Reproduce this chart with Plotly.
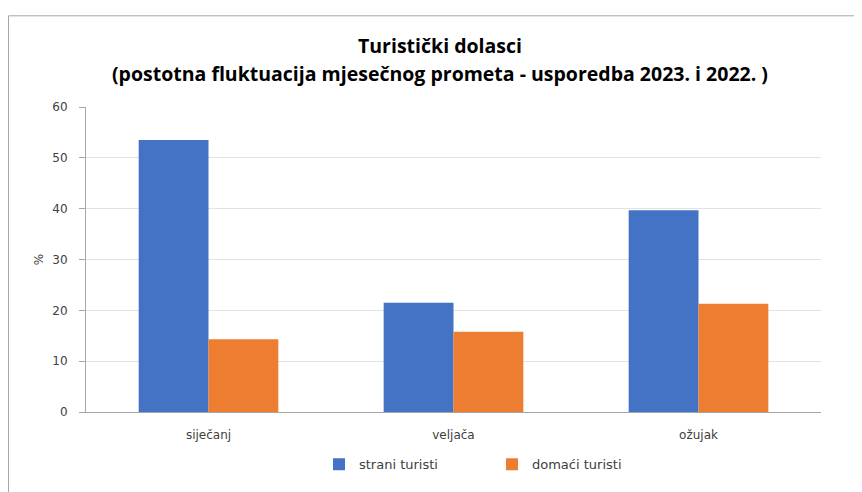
import plotly.graph_objects as go

categories = ["siječanj", "veljača", "ožujak"]
strani = [53.5, 21.5, 39.7]
domaci = [14.3, 15.8, 21.3]
series_names = ["strani turisti", "domaći turisti"]
title_lines = ["Turistički dolasci",
               "(postotna fluktuacija mjesečnog prometa - usporedba 2023. i 2022. )"]

OFF = 8  # page body offset
W, H = 862 - OFF, 492 - OFF
L, R, T, B = 86 - OFF, 821 - OFF, 106.5 - OFF, 412.5 - OFF

def px(x):
    return (x - OFF - L) / (R - L)

def py(y):
    return (B - (y - OFF)) / (B - T)

fig = go.Figure()
fig.add_trace(go.Bar(name=series_names[0], x=categories, y=strani,
                     marker=dict(color="#4472C4", line=dict(width=0))))
fig.add_trace(go.Bar(name=series_names[1], x=categories, y=domaci,
                     marker=dict(color="#ED7D31", line=dict(width=0))))

tick_font = dict(family="DejaVu Sans", size=12, color="#404040")

fig.update_layout(
    width=W, height=H,
    margin=dict(l=L, r=W - R, t=T, b=H - B, autoexpand=False),
    paper_bgcolor="white", plot_bgcolor="white",
    barmode="group", bargap=0.43, bargroupgap=0,
    showlegend=True,
    legend=dict(orientation="h", x=px(319), y=py(465), xanchor="left", yanchor="middle",
                font=dict(family="DejaVu Sans", size=13, color="#404040"),
                entrywidth=128, entrywidthmode="pixels", traceorder="normal"),
    xaxis=dict(showline=True, linecolor="#A6A6A6", linewidth=1, ticks="",
               tickfont=tick_font, showgrid=False, ticklabelstandoff=12),
    yaxis=dict(range=[0, 60], dtick=10, showline=True, linecolor="#A6A6A6", linewidth=1,
               ticks="outside", ticklen=6, tickcolor="#A6A6A6",
               showgrid=True, gridcolor="#E3E3E3", gridwidth=1, zeroline=False,
               tickfont=tick_font, ticklabelstandoff=9,
               title=dict(text="%", font=dict(family="DejaVu Sans", size=12, color="#404040"),
                          standoff=6)),
    font=dict(family="DejaVu Sans"),
)

for txt, yc in zip(title_lines, [45, 73]):
    fig.add_annotation(text="<b>" + txt + "</b>", xref="paper", yref="paper",
                       x=px(440), y=py(yc), xanchor="center", yanchor="middle",
                       showarrow=False,
                       font=dict(family="Open Sans", size=19.5, color="#000000"))

fig.add_shape(type="rect", xref="paper", yref="paper",
              x0=px(8.5), x1=px(900), y0=py(520), y1=py(15),
              line=dict(color="#A6A6A6", width=1), layer="below")

fig.write_html("out.html")
